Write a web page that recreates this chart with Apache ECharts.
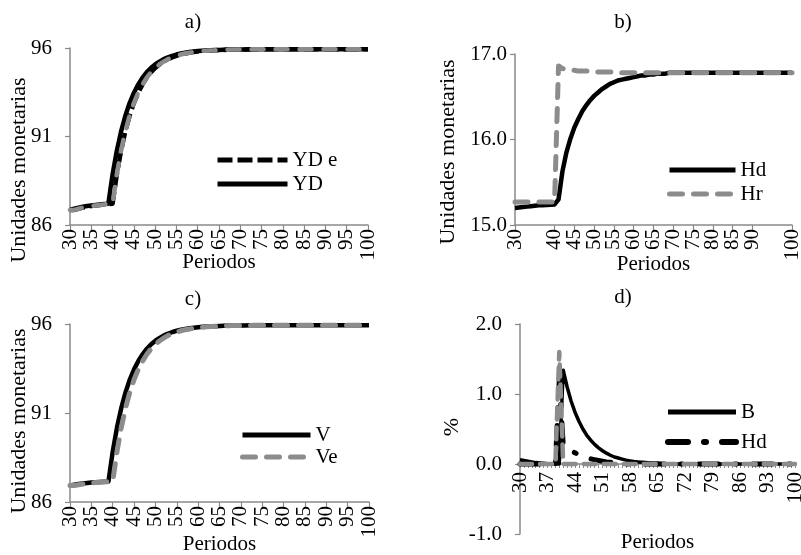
<!DOCTYPE html>
<html>
<head>
<meta charset="utf-8">
<script src="https://cdn.jsdelivr.net/npm/echarts@6/dist/echarts.min.js"></script>
<style>html,body{margin:0;padding:0;background:#fff;}#c{width:801px;height:555px;}</style>
</head>
<body>
<div id="c"></div>
<script>
const periods = [30,31,32,33,34,35,36,37,38,39,40,41,42,43,44,45,46,47,48,49,50,51,52,53,54,55,56,57,58,59,60,61,62,63,64,65,66,67,68,69,70,71,72,73,74,75,76,77,78,79,80,81,82,83,84,85,86,87,88,89,90,91,92,93,94,95,96,97,98,99,100];

// a) YD and YD e
const ydValues = [86.85,86.92,86.98,87.03,87.07,87.10,87.13,87.16,87.18,87.20,
 88.86,90.20,91.29,92.17,92.89,93.46,93.93,94.31,94.62,94.87,
 95.07,95.23,95.37,95.47,95.56,95.63,95.69,95.73,95.77,95.80,
 95.83,95.85,95.86,95.87,95.89,95.89,95.90,95.91,95.91,95.92,
 95.92,95.92,95.93,95.93,95.93,95.93,95.93,95.93,95.93,95.93,
 95.93,95.93,95.93,95.93,95.93,95.93,95.93,95.93,95.93,95.93,
 95.93,95.93,95.93,95.93,95.93,95.93,95.93,95.93,95.93,95.93,95.93];
const ydeValues = [86.85,86.85,86.92,86.98,87.03,87.07,87.10,87.13,87.16,87.18,
 87.20,88.86,90.20,91.29,92.17,92.89,93.46,93.93,94.31,94.62,
 94.87,95.07,95.23,95.37,95.47,95.56,95.63,95.69,95.73,95.77,
 95.80,95.83,95.85,95.86,95.87,95.89,95.89,95.90,95.91,95.91,
 95.92,95.92,95.92,95.93,95.93,95.93,95.93,95.93,95.93,95.93,
 95.93,95.93,95.93,95.93,95.93,95.93,95.93,95.93,95.93,95.93,
 95.93,95.93,95.93,95.93,95.93,95.93,95.93,95.93,95.93,95.93,95.93];

// b) Hd and Hr
const hdValues = [15.20,15.205,15.21,15.215,15.22,15.225,15.23,15.232,15.235,15.238,
 15.24,15.30,15.63,15.85,16.01,16.14,16.24,16.33,16.40,16.46,
 16.51,16.55,16.59,16.62,16.65,16.67,16.69,16.70,16.71,16.72,
 16.73,16.74,16.75,16.75,16.76,16.76,16.77,16.77,16.77,16.78,
 16.78,16.78,16.78,16.78,16.78,16.78,16.78,16.78,16.78,16.78,
 16.78,16.78,16.78,16.78,16.78,16.78,16.78,16.78,16.78,16.78,
 16.78,16.78,16.78,16.78,16.78,16.78,16.78,16.78,16.78,16.78,16.78];
const hrValues = [15.27,15.27,15.27,15.27,15.27,15.27,15.27,15.27,15.27,15.27,
 15.27,16.86,16.83,16.82,16.81,16.81,16.80,16.80,16.80,16.80,
 16.79,16.79,16.79,16.79,16.79,16.79,16.78,16.78,16.78,16.78,
 16.78,16.78,16.78,16.78,16.78,16.78,16.78,16.78,16.78,16.78,
 16.78,16.78,16.78,16.78,16.78,16.78,16.78,16.78,16.78,16.78,
 16.78,16.78,16.78,16.78,16.78,16.78,16.78,16.78,16.78,16.78,
 16.78,16.78,16.78,16.78,16.78,16.78,16.78,16.78,16.78,16.78,16.78];

// c) V and Ve
const vValues = [86.93,86.97,87.01,87.04,87.07,87.09,87.11,87.13,87.14,87.15,
 88.83,90.18,91.27,92.16,92.88,93.45,93.92,94.30,94.61,94.86,
 95.06,95.22,95.36,95.46,95.55,95.62,95.68,95.72,95.76,95.79,
 95.82,95.84,95.86,95.87,95.88,95.89,95.90,95.91,95.91,95.92,
 95.92,95.92,95.93,95.93,95.93,95.93,95.93,95.93,95.93,95.93,
 95.93,95.93,95.93,95.93,95.93,95.93,95.93,95.93,95.93,95.93,
 95.93,95.93,95.93,95.93,95.93,95.93,95.93,95.93,95.93,95.93,95.93];
const veValues = [86.93,86.93,86.97,87.01,87.04,87.07,87.09,87.11,87.13,87.14,
 87.15,88.83,90.18,91.27,92.16,92.88,93.45,93.92,94.30,94.61,
 94.86,95.06,95.22,95.36,95.46,95.55,95.62,95.68,95.72,95.76,
 95.79,95.82,95.84,95.86,95.87,95.88,95.89,95.90,95.91,95.91,
 95.92,95.92,95.92,95.93,95.93,95.93,95.93,95.93,95.93,95.93,
 95.93,95.93,95.93,95.93,95.93,95.93,95.93,95.93,95.93,95.93,
 95.93,95.93,95.93,95.93,95.93,95.93,95.93,95.93,95.93,95.93,95.93];

// d) B, Hd (%) and unlabeled grey series
const bPct = [0.06,0.05,0.04,0.03,0.02,0.015,0.01,0.005,0,0,
 0,1.34,1.10,0.90,0.74,0.61,0.50,0.41,0.34,0.28,
 0.23,0.19,0.155,0.125,0.10,0.085,0.07,0.055,0.045,0.035,
 0.03,0.025,0.02,0.015,0.01,0.01,0.005,0.005,0,0,
 0,0,0,0,0,0,0,0,0,0,
 0,0,0,0,0,0,0,0,0,0,
 0,0,0,0,0,0,0,0,0,0,0];
const hdPct = [0,0,0,0,0,0,0,0,0,0,
 1.20,0.27,0.23,0.19,0.16,0.13,0.11,0.09,0.075,0.06,
 0.05,0.04,0.03,0.025,0.02,0.015,0.01,0,0,0,
 0,0,0,0,0,0,0,0,0,0,
 0,0,0,0,0,0,0,0,0,0,
 0,0,0,0,0,0,0,0,0,0,
 0,0,0,0,0,0,0,0,0,0,0];
const greyPct = [0,0,0,0,0,0,0,0,0,0,
 1.60,0,0,0,0,0,0,0,0,0,
 0,0,0,0,0,0,0,0,0,0,
 0,0,0,0,0,0,0,0,0,0,
 0,0,0,0,0,0,0,0,0,0,
 0,0,0,0,0,0,0,0,0,0,
 0,0,0,0,0,0,0,0,0,0,0];

const FONT = 'Liberation Serif';
const AX = '#8a8a8a';
const GREY = '#8c8c8c';
const txt = {fontFamily: FONT, fontSize: 21, color: '#000'};

function xAx(gi, tickInt, labInt, margin, gap) {
  return {
    type: 'category', gridIndex: gi, data: periods, boundaryGap: false,
    axisLine: {show: true, onZero: false, lineStyle: {color: AX, width: 1.5}},
    axisTick: {show: true, interval: tickInt, length: 5, lineStyle: {color: AX, width: 1.2}},
    axisLabel: Object.assign({interval: labInt, rotate: 90, margin: margin, showMinLabel: true, showMaxLabel: true, hideOverlap: false}, txt),
    splitLine: {show: false},
    name: 'Periodos', nameLocation: 'middle', nameGap: gap, nameMoveOverlap: false,
    nameTextStyle: txt
  };
}
function yAx(gi, min, max, interval, margin, dec) {
  return {
    type: 'value', gridIndex: gi, min: min, max: max, interval: interval,
    axisLine: {show: true, onZero: false, lineStyle: {color: AX, width: 1.5}},
    axisTick: {show: true, length: 5, lineStyle: {color: AX, width: 1.2}},
    axisLabel: Object.assign({margin: margin, showMinLabel: true, showMaxLabel: true, formatter: v => dec ? v.toFixed(1) : String(v)}, txt),
    splitLine: {show: false}
  };
}
function line(name, gi, data, color, width, dash, z, cap) {
  return {
    name: name, type: 'line', xAxisIndex: gi, yAxisIndex: gi, data: data,
    symbol: 'none', smooth: false, z: z,
    lineStyle: {color: color, width: width, type: dash || 'solid', cap: cap || (dash ? 'round' : 'butt'), join: 'round'},
    itemStyle: {color: color},
    emphasis: {disabled: true}
  };
}
function leg(left, top, lh, w, data) {
  return {
    left: left, top: top, orient: 'vertical', itemWidth: w, itemHeight: 14, itemGap: 0,
    padding: 0, selectedMode: false,
    itemStyle: {opacity: 0, borderWidth: 0},
    lineStyle: {width: 5},
    textStyle: Object.assign({lineHeight: lh}, txt),
    data: data
  };
}
function label(text, x, y, rot, size) {
  return {
    type: 'text', x: x, y: y, rotation: rot || 0, silent: true,
    style: {text: text, fill: '#000', font: (size || 21) + 'px "' + FONT + '"', align: 'center', verticalAlign: 'middle',
            textAlign: 'center', textVerticalAlign: 'middle'}
  };
}

const chart = echarts.init(document.getElementById('c'), null, {renderer: 'canvas'});
chart.setOption({
  animation: false,
  backgroundColor: '#fff',
  grid: [
    {left: 70, top: 48, width: 298, height: 177, outerBoundsMode: 'none', containLabel: false},
    {left: 515, top: 54, width: 277, height: 171, outerBoundsMode: 'none', containLabel: false},
    {left: 70, top: 324, width: 299, height: 178, outerBoundsMode: 'none', containLabel: false},
    {left: 520, top: 324, width: 275, height: 210, outerBoundsMode: 'none', containLabel: false}
  ],
  xAxis: [
    xAx(0, 4, 4, 4, 27),
    xAx(1, 4, 4, 4, 29),
    xAx(2, 4, 4, 4, 32),
    Object.assign(xAx(3, 0, 6, 8, 68), {offset: -70, axisTick: {show: true, interval: 0, length: 4, lineStyle: {color: AX, width: 1}}})
  ],
  yAxis: [
    yAx(0, 86, 96, 5, 18, false),
    yAx(1, 15, 17, 1, 8, true),
    yAx(2, 86, 96, 5, 18, false),
    yAx(3, -1, 2, 1, 18, true)
  ],
  legend: [
    leg(215, 148, 24, 70, ['YD e', 'YD']),
    leg(667, 158, 24, 66, ['Hd', 'Hr']),
    leg(240, 424, 22, 68, ['V', 'Ve']),
    leg(665, 397, 30, 68, ['B', {name: 'Hd', lineStyle: {color: '#000', width: 6, type: [20, 16, 2, 16], cap: 'round'}}])
  ],
  graphic: [
    label('a)', 193, 22), label('b)', 623, 22), label('c)', 193, 299), label('d)', 623, 297),
    label('Unidades monetarias', 19, 170, Math.PI / 2, 22),
    label('Unidades monetarias', 448, 152, Math.PI / 2, 22),
    label('Unidades monetarias', 19, 421, Math.PI / 2, 22),
    label('%', 452, 427, Math.PI / 2, 22)
  ],
  series: [
    line('YD', 0, ydValues, '#000', 4.5, null, 2),
    line('YD e', 0, ydeValues, '#000', 4.5, [15, 5], 3, 'butt'),
    line('YD e (gris)', 0, ydeValues, GREY, 4.5, [12, 12], 4),
    line('Hd', 1, hdValues, '#000', 4.5, null, 2),
    line('Hr', 1, hrValues, GREY, 5, [13, 11], 3),
    line('V', 2, vValues, '#000', 4.5, null, 2),
    line('Ve', 2, veValues, GREY, 5, [13, 11], 3),
    line('B', 3, bPct, '#000', 3.5, null, 2),
    line('Hd', 3, hdPct, '#000', 5, [20, 16, 2, 16], 3),
    line('Hd (gris)', 3, greyPct, GREY, 4.5, [12, 8], 4)
  ]
});
</script>
</body>
</html>
